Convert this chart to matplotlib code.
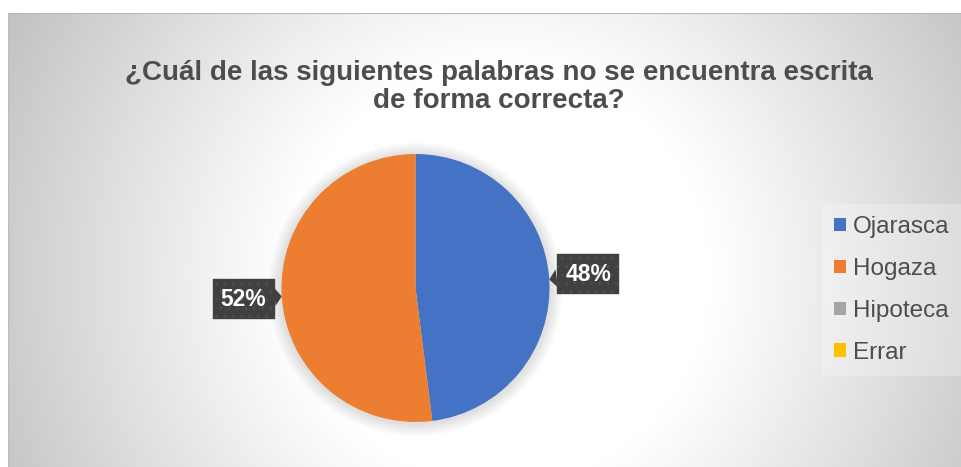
import numpy as np
import matplotlib
matplotlib.use("Agg")
import matplotlib.pyplot as plt

# ---- data ----
categories = ["Ojarasca", "Hogaza", "Hipoteca", "Errar"]
values = [48, 52, 0, 0]
colors = ["#4472C4", "#ED7D31", "#A5A5A5", "#FFC000"]
title = "¿Cuál de las siguientes palabras no se encuentra escrita\nde forma correcta?"

plt.rcParams["font.family"] = ["Liberation Sans", "DejaVu Sans"]

W, H = 962, 467
fig = plt.figure(figsize=(W / 100, H / 100), dpi=100)
fig.patch.set_facecolor("white")

def fx(px):
    return px / W

def fy(py):
    return 1 - py / H

# ---- background chart area with radial gradient ----
x0, y0 = 8, 13
bg = fig.add_axes([fx(x0), 0, 1 - fx(x0), fy(y0)])
bg.set_xlim(x0, W)
bg.set_ylim(H, y0)
xx, yy = np.meshgrid(np.arange(x0, W), np.arange(y0, H))
cx, cy = 500, 275
d = np.hypot(xx - cx, yy - cy)
drop = np.clip((d - 210) / 350, 0, 1) ** 1.05 * 62
val = (255 - drop) / 255
img = np.dstack([val, val, val])
bg.imshow(img, extent=(x0, W, H, y0), aspect="auto", interpolation="bilinear")
bg.plot([x0, W], [y0 + 0.5, y0 + 0.5], color="#b8b8b8", lw=1.5)
bg.plot([x0 + 0.5, x0 + 0.5], [y0, H], color="#bdbdbd", lw=1.0)
bg.set_axis_off()

# ---- pie ----
pcx, pcy, r = 415.5, 288, 134
pax = fig.add_axes([fx(pcx - r), fy(pcy + r), 2 * r / W, 2 * r / H])
pax.patch.set_alpha(0)
# soft shadow
for k in range(8):
    circ = plt.Circle((0.0, -0.01), 1.0 + 0.012 * (k + 1), color="black",
                      alpha=0.016, lw=0, zorder=0)
    pax.add_patch(circ)
wedges, _ = pax.pie(values, colors=colors, startangle=90, counterclock=False,
                    wedgeprops=dict(linewidth=0))
pax.set_xlim(-1, 1)
pax.set_ylim(-1, 1)
pax.set_aspect("equal", adjustable="box")
pax.set_axis_off()
for c in pax.patches:
    c.set_clip_on(False)

# ---- data labels (callouts) ----
total = sum(values)
start = 90.0
offsets = {0: (28, 4), 1: (-27.5, -2)}
for i, v in enumerate(values):
    ang = v / total * 360
    mid = start - ang / 2
    start -= ang
    if v == 0:
        continue
    th = np.deg2rad(mid)
    xy = (np.cos(th), np.sin(th))
    pax.annotate(f"{v / total * 100:.0f}%", xy=xy, xytext=offsets[i],
                 textcoords="offset points", ha="center", va="center",
                 fontsize=16.5, fontweight="bold", color="white",
                 bbox=dict(boxstyle="square,pad=0.36", fc="#404040",
                           ec="#4d4d4d", lw=0.3, hatch=".."),
                 arrowprops=dict(arrowstyle="wedge,tail_width=0.8,shrink_factor=0.5",
                                 fc="#404040", ec="none", shrinkA=0, shrinkB=0),
                 annotation_clip=False, zorder=5)

# ---- legend ----
leg = fig.legend(wedges, categories, loc="center left",
                 bbox_to_anchor=(fx(822), fy(290)), frameon=True,
                 fontsize=17.5, handlelength=0.48, handleheight=0.48,
                 handletextpad=0.3, labelspacing=0.82, borderpad=0.5,
                 borderaxespad=0)
frame = leg.get_frame()
frame.set_facecolor("white")
frame.set_alpha(0.25)
frame.set_edgecolor("none")
frame.set_boxstyle("square", pad=0)
for t in leg.get_texts():
    t.set_color("#4d4d4d")
for h in leg.legend_handles:
    h.set_edgecolor("none")

# ---- title ----
fig.text(fx(498.5), fy(108), title, ha="center", va="baseline",
         multialignment="center", fontsize=20, fontweight="bold",
         color="#4d4d4d", linespacing=1.1)

fig.savefig("out.png", dpi=100, facecolor="white")
